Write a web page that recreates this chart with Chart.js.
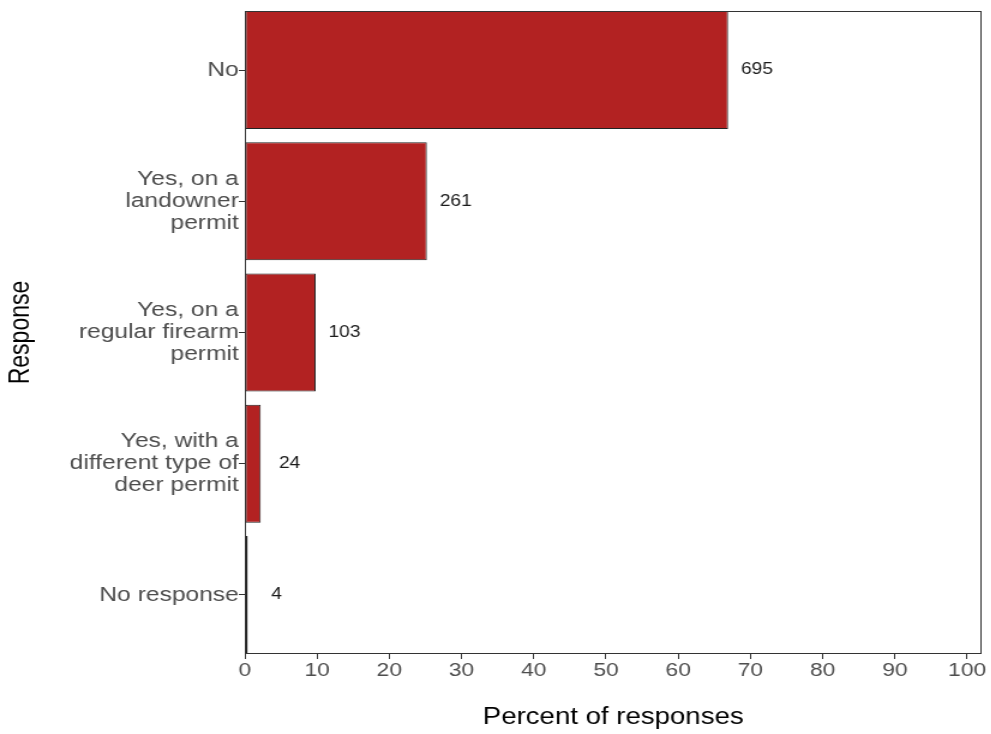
<!DOCTYPE html>
<html>
<head>
<meta charset="utf-8">
<script src="https://cdn.jsdelivr.net/npm/chart.js@4/dist/chart.umd.min.js"></script>
<style>
    html, body { margin: 0; padding: 0; background: #fff; overflow: hidden; }
    /* the reference is stretched sideways, so the canvas is too */
    #chart { display: block; transform: scale(1.2, 1); transform-origin: 0 0; }
</style>
</head>
<body>
<canvas id="chart" width="826" height="734"></canvas>
<script>
// data
const categories = [
    "No",
    ["Yes, on a", "landowner", "permit"],
    ["Yes, on a", "regular firearm", "permit"],
    ["Yes, with a", "different type of", "deer permit"],
    "No response",
];
const percents = [66.9, 25.2, 9.8, 2.2, 0.4];
const counts = [695, 261, 103, 24, 4];
const xTicks = [0, 10, 20, 30, 40, 50, 60, 70, 80, 90, 100];

const FONT = "'Liberation Sans', Arial, sans-serif";
const TICK_GREY = "#4D4D4D";
const LABEL_GAP = 4; // count label sits this many percent right of the bar
const HALF_BAR = 0.45; // categories run edge to edge, like ggplot with no expansion

// panel border all round
const panelBorder = {
    id: "panelBorder",
    afterDraw(chart) {
        const { ctx, chartArea: a } = chart;
        ctx.save();
        ctx.strokeStyle = "#333333";
        ctx.lineWidth = 1;
        ctx.strokeRect(a.left + 0.5, a.top + 0.5, a.right - a.left - 1, a.bottom - a.top - 1);
        ctx.restore();
    },
};

// count labels next to bars
const countLabels = {
    id: "countLabels",
    afterDatasetsDraw(chart) {
        const { ctx } = chart;
        const xScale = chart.scales.x;
        const meta = chart.getDatasetMeta(0);
        ctx.save();
        ctx.font = "16px " + FONT;
        ctx.fillStyle = "#1a1a1a";
        ctx.textAlign = "center";
        ctx.textBaseline = "middle";
        meta.data.forEach((bar, i) => {
            const x = xScale.getPixelForValue(percents[i] + LABEL_GAP);
            ctx.fillText(String(counts[i]), x, bar.y);
        });
        ctx.restore();
    },
};

new Chart(document.getElementById("chart"), {
    type: "bar",
    data: {
        datasets: [
            {
                data: percents.map((p, i) => ({ x: p, y: i })),
                backgroundColor: "#B22222",
                borderColor: "#222222",
                borderWidth: 1,
                borderSkipped: false,
                barPercentage: 0.9,
                categoryPercentage: 1,
            },
        ],
    },
    options: {
        indexAxis: "y",
        responsive: false,
        animation: false,
        layout: { padding: { top: 11, right: 8, bottom: 0, left: 0 } },
        plugins: {
            legend: { display: false },
            tooltip: { enabled: false },
        },
        scales: {
            x: {
                type: "linear",
                min: 0,
                max: 102,
                afterBuildTicks: (scale) => {
                    scale.ticks = xTicks.map((v) => ({ value: v }));
                },
                afterFit: (scale) => {
                    scale.height = 80;
                },
                grid: { drawOnChartArea: false, drawTicks: true, tickLength: 5, color: "#333333" },
                border: { display: false },
                ticks: { color: TICK_GREY, font: { family: FONT, size: 19 }, padding: 0, maxRotation: 0 },
                title: {
                    display: true,
                    text: "Percent of responses",
                    color: "#000",
                    font: { family: FONT, size: 23 },
                    padding: { top: 0, bottom: 3 },
                },
            },
            y: {
                type: "linear",
                reverse: true,
                offset: false,
                min: -HALF_BAR,
                max: categories.length - 1 + HALF_BAR,
                afterBuildTicks: (scale) => {
                    scale.ticks = categories.map((c, i) => ({ value: i }));
                },
                afterFit: (scale) => {
                    scale.width = 204;
                },
                grid: { drawOnChartArea: false, drawTicks: true, tickLength: 5, color: "#333333", offset: false },
                border: { display: false },
                ticks: {
                    color: TICK_GREY,
                    font: { family: FONT, size: 20.5, lineHeight: 1.07 },
                    padding: 0,
                    callback: (value) => categories[value],
                },
                title: {
                    display: true,
                    text: "Response",
                    color: "#000",
                    font: { family: FONT, size: 23 },
                    padding: { top: 4, bottom: 0 },
                },
            },
        },
    },
    plugins: [panelBorder, countLabels],
});
</script>
</body>
</html>
